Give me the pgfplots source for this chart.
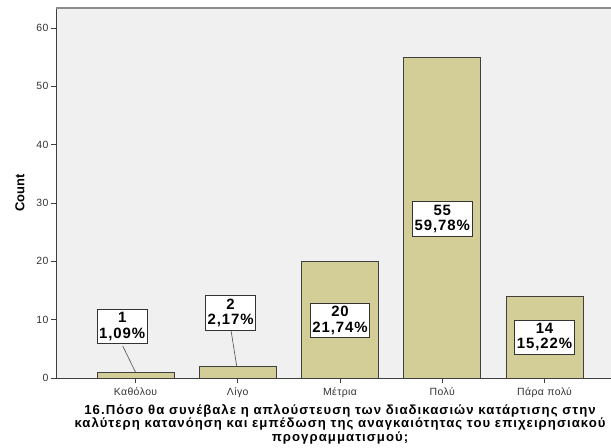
\documentclass[border=0pt]{standalone}
\usepackage{fontspec}
\setmainfont{Liberation Sans}
\newfontfamily\boxfont[LetterSpace=6]{Liberation Sans}
\newfontfamily\titlefont[LetterSpace=8]{Liberation Sans}
\newfontfamily\tickfont[LetterSpace=4]{Liberation Sans}
\usepackage{pgfplots}
\pgfplotsset{compat=1.18}
\definecolor{barfill}{HTML}{D3CE97}
\definecolor{bgc}{HTML}{F0F0F0}
\definecolor{tickc}{HTML}{333333}
\begin{document}
\begin{tikzpicture}
\begin{axis}[
  scale only axis,
  width=555bp, height=370bp,
  xmin=-0.7775, xmax=4.65,
  ymin=0, ymax=63.43,
  axis background/.style={fill=bgc},
  axis x line*=bottom,
  axis y line*=left,
  axis line style={draw=black!75, line width=0.8pt},
  xtick={0,1,2,3,4},
  xticklabels={Καθόλου, Λίγο, Μέτρια, Πολύ, Πάρα πολύ},
  ytick={0,10,20,30,40,50,60},
  tick align=outside,
  major tick length=5bp,
  tick style={draw=black!75, line width=0.8pt},
  ticklabel style={font=\tickfont\fontsize{10.5}{11}\selectfont, text=tickc},
  /pgf/number format/assume math mode=true,
  xticklabel style={yshift=-1bp},
  yticklabel style={xshift=1bp},
  ylabel={\bfseries Count},
  ylabel style={font=\fontsize{13}{14}\selectfont, at={(axis description cs:-0.0649,0.5)}, anchor=center},
  clip=false,
  ybar, bar width=77bp,
]
\addplot[fill=barfill, draw=black!75, line width=0.8pt] coordinates {(0,1) (1,2) (2,20) (3,55) (4,14)};
\draw[black!70, line width=0.6pt] (axis cs:-0.125,5.49) -- (axis cs:0,1);
\draw[black!70, line width=0.6pt] (axis cs:0.935,8.06) -- (axis cs:0.99,2);
\tikzset{lbl/.style={draw=black!80, fill=white, line width=0.8pt, align=center, inner xsep=2.2bp, inner ysep=3.2bp, font=\boxfont\bfseries\fontsize{15}{15.5}\selectfont}}
\node[lbl] at (axis cs:-0.13,8.83) {1\\1,09\%};
\node[lbl] at (axis cs:0.93,11.2) {2\\2,17\%};
\node[lbl] at (axis cs:2,9.9) {20\\21,74\%};
\node[lbl] at (axis cs:3,27.3) {55\\59,78\%};
\node[lbl] at (axis cs:4,7.0) {14\\15,22\%};
\node[anchor=north, align=center, font=\titlefont\bfseries\fontsize{13.2}{12}\selectfont, inner sep=0pt] at ([yshift=-26bp]axis cs:2,0) {16.Πόσο θα συνέβαλε η απλούστευση των διαδικασιών κατάρτισης στην\\καλύτερη κατανόηση και εμπέδωση της αναγκαιότητας του επιχειρησιακού\\προγραμματισμού;};
\draw[black!45, line width=1.2pt] (rel axis cs:0,1) -- (rel axis cs:1,1);
\coordinate (ll) at (rel axis cs:0,0);
\coordinate (ur) at (rel axis cs:1,1);
\end{axis}
\pgfresetboundingbox
\path ([shift={(-56bp,-70bp)}]ll) rectangle ([shift={(0,8bp)}]ur);
\end{tikzpicture}
\end{document}
